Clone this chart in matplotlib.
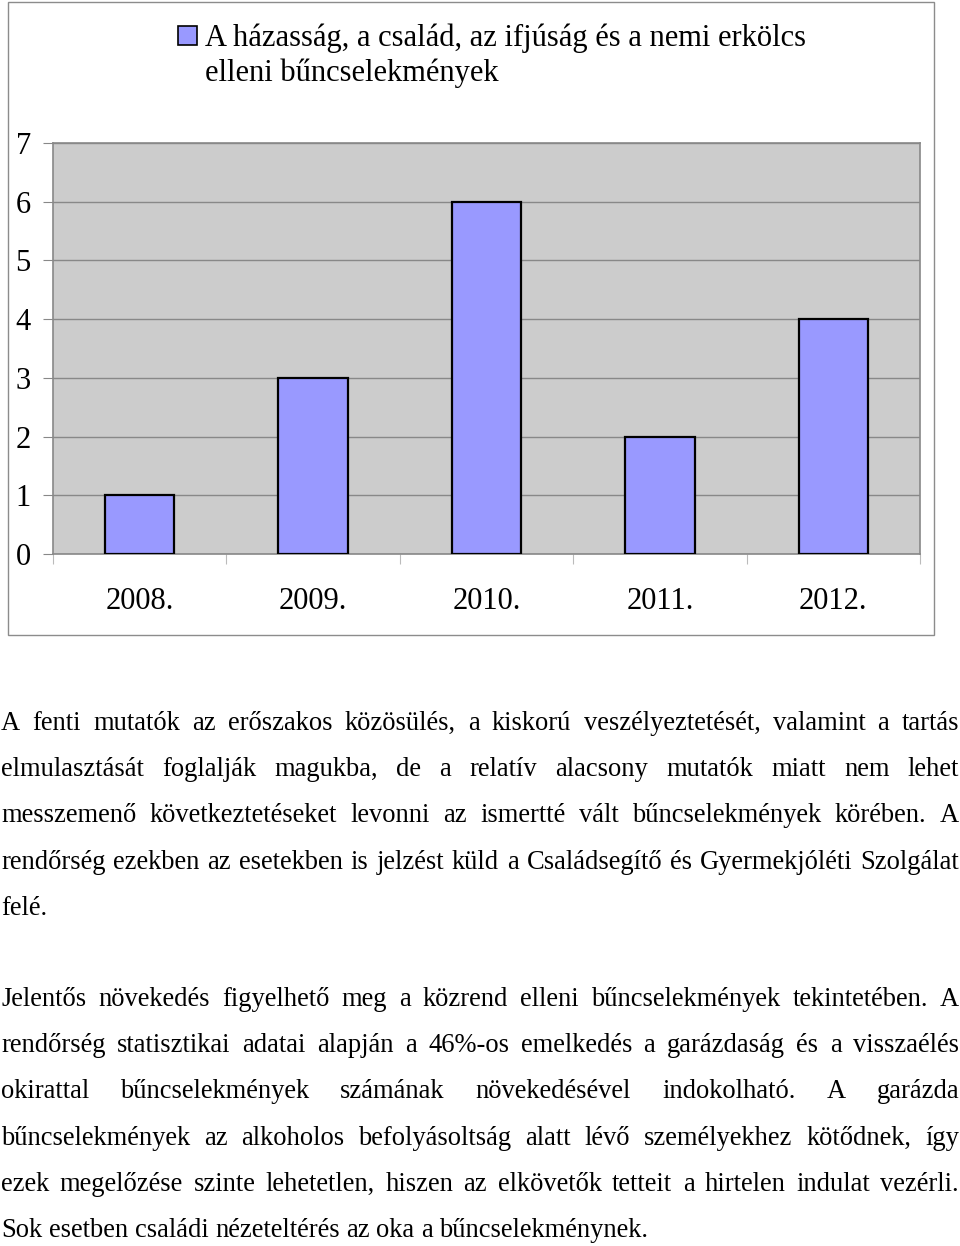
import matplotlib
matplotlib.use("Agg")
import matplotlib.pyplot as plt
from matplotlib.patches import Rectangle

# chart data
years = ["2008.", "2009.", "2010.", "2011.", "2012."]
counts = [1, 3, 6, 2, 4]
y_ticks = [0, 1, 2, 3, 4, 5, 6, 7]
legend_lines = ["A házasság, a család, az ifjúság és a nemi erkölcs",
                "elleni bűncselekmények"]

# text below the chart, one entry per printed line (True = justified)
para1 = [
    ("A fenti mutatók az erőszakos közösülés, a kiskorú veszélyeztetését, valamint a tartás", True),
    ("elmulasztását foglalják magukba, de a relatív alacsony mutatók miatt nem lehet", True),
    ("messzemenő következtetéseket levonni az ismertté vált bűncselekmények körében. A", True),
    ("rendőrség ezekben az esetekben is jelzést küld a Családsegítő és Gyermekjóléti Szolgálat", True),
    ("felé.", False),
]
para2 = [
    ("Jelentős növekedés figyelhető meg a közrend elleni bűncselekmények tekintetében. A", True),
    ("rendőrség statisztikai adatai alapján a 46%-os emelkedés a garázdaság és a visszaélés", True),
    ("okirattal bűncselekmények számának növekedésével indokolható. A garázda", True),
    ("bűncselekmények az alkoholos befolyásoltság alatt lévő személyekhez kötődnek, így", True),
    ("ezek megelőzése szinte lehetetlen, hiszen az elkövetők tetteit a hirtelen indulat vezérli.", True),
    ("Sok esetben családi nézeteltérés az oka a bűncselekménynek.", False),
]

W, H = 960, 1246
plt.rcParams["font.family"] = ["Liberation Serif", "DejaVu Serif"]

fig = plt.figure(figsize=(W / 100, H / 100), dpi=100)
fig.patch.set_facecolor("white")

# chart frame
fig.patches.append(Rectangle((8 / W, 1 - 635 / H), 926 / W, 633 / H,
                             transform=fig.transFigure, fill=False,
                             edgecolor="#8c8c8c", lw=1.0))

ax = fig.add_axes([53 / W, 1 - 554 / H, 867 / W, 411 / H])
ax.set_facecolor("#cccccc")
x = list(range(len(years)))
ax.bar(x, counts, width=0.40, color="#9999ff", edgecolor="black", linewidth=1.6, zorder=3)
ax.set_xlim(-0.5, len(years) - 0.5)
ax.set_ylim(0, 7)
ax.set_yticks(y_ticks)
ax.yaxis.grid(True, color="#888888", lw=1.0, zorder=0)
ax.tick_params(axis="y", length=7, width=0.8, color="#888888", pad=9, labelsize=22)

# category boundaries as major ticks, labels as minor ticks
ax.set_xticks([i - 0.5 for i in range(len(years) + 1)])
ax.set_xticklabels([])
ax.tick_params(axis="x", which="major", length=7, width=0.8, color="#bbbbbb")
ax.set_xticks(x, minor=True)
ax.set_xticklabels(years, minor=True)
ax.tick_params(axis="x", which="minor", length=0, pad=24, labelsize=22)
for s in ax.spines.values():
    s.set_color("#888888")
    s.set_linewidth(1.2)

# legend
fig.patches.append(Rectangle((178 / W, 1 - 45 / H), 19 / W, 19 / H,
                             transform=fig.transFigure, facecolor="#9999ff",
                             edgecolor="black", lw=1.2))
for i, line in enumerate(legend_lines):
    fig.text(205 / W, 1 - (46 + 35 * i) / H, line, fontsize=22,
             ha="left", va="baseline")

# justified paragraphs
renderer = fig.canvas.get_renderer()
fs = 19.1


def text_width(s):
    t = fig.text(0, 0, s, fontsize=fs)
    w = t.get_window_extent(renderer).width
    t.remove()
    return w


space = text_width("a a") - text_width("aa")


def draw_line(text, baseline, justify, x0=1, x1=959):
    words = text.split(" ")
    objs = [fig.text(0, 1 - baseline / H, w, fontsize=fs, ha="left", va="baseline")
            for w in words]
    widths = [o.get_window_extent(renderer).width for o in objs]
    if justify and len(words) > 1:
        gap = (x1 - x0 - sum(widths)) / (len(words) - 1)
    else:
        gap = space
    pos = x0
    for o, w in zip(objs, widths):
        o.set_x(pos / W)
        pos += w + gap


step = 46.2
for i, (line, just) in enumerate(para1):
    draw_line(line, 730 + step * i, just)
for i, (line, just) in enumerate(para2):
    draw_line(line, 1006 + step * i, just)

fig.savefig("out.png", dpi=100)
